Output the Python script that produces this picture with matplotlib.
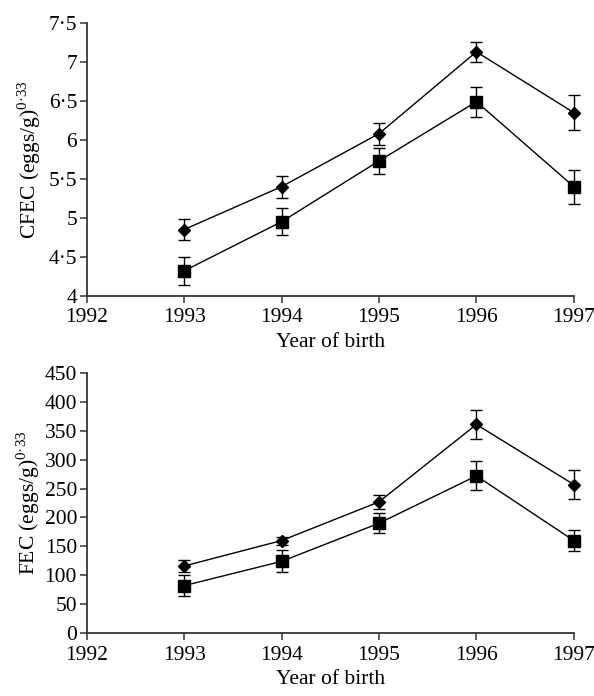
import matplotlib
matplotlib.use("Agg")
import matplotlib.pyplot as plt
from matplotlib.ticker import FuncFormatter

plt.rcParams['font.family'] = ['Liberation Serif', 'DejaVu Serif']
plt.rcParams['mathtext.fontset'] = 'custom'
plt.rcParams['mathtext.rm'] = 'Liberation Serif'
plt.rcParams['font.size'] = 15.5

# Data
years = [1993, 1994, 1995, 1996, 1997]

cfec_diamond = [4.85, 5.40, 6.08, 7.13, 6.35]
cfec_diamond_err = [0.14, 0.14, 0.14, 0.13, 0.22]
cfec_square = [4.32, 4.95, 5.73, 6.49, 5.40]
cfec_square_err = [0.18, 0.17, 0.17, 0.19, 0.22]

fec_diamond = [116, 160, 227, 361, 257]
fec_diamond_err = [10, 7, 12, 25, 25]
fec_square = [82, 124, 190, 272, 160]
fec_square_err = [18, 19, 17, 25, 18]

fig = plt.figure(figsize=(5.94, 6.96), dpi=100)
ax1 = fig.add_axes([0.146, 0.575, 0.82, 0.392])
ax2 = fig.add_axes([0.146, 0.0905, 0.82, 0.3735])


def style(ax):
    ax.spines['top'].set_visible(False)
    ax.spines['right'].set_visible(False)
    ax.spines['left'].set_color('#333333')
    ax.spines['bottom'].set_color('#333333')
    ax.spines['left'].set_linewidth(1.3)
    ax.spines['bottom'].set_linewidth(1.3)
    ax.tick_params(direction='out', length=5, width=1.1, color='#333333', pad=2)
    ax.tick_params(axis='x', pad=4)
    ax.set_xlim(1992, 1997)
    ax.set_xticks(range(1992, 1998))
    ax.set_xlabel('Year of birth', labelpad=4)


def series(ax, y, err, marker, ms):
    ax.errorbar(years, y, yerr=err, color='black', marker=marker, ms=ms,
                lw=1.0, elinewidth=1.0, capsize=4, capthick=1.0, clip_on=False)


style(ax1)
series(ax1, cfec_diamond, cfec_diamond_err, 'D', 6)
series(ax1, cfec_square, cfec_square_err, 's', 9)
ax1.set_ylim(4, 7.5)
ax1.set_yticks([4, 4.5, 5, 5.5, 6, 6.5, 7, 7.5])
ax1.yaxis.set_major_formatter(FuncFormatter(lambda v, p: ('%g' % v).replace('.', '·')))
ax1.set_ylabel('CFEC (eggs/g)$^{\\mathrm{0·33}}$', labelpad=4)

style(ax2)
series(ax2, fec_diamond, fec_diamond_err, 'D', 6)
series(ax2, fec_square, fec_square_err, 's', 9)
ax2.set_ylim(0, 450)
ax2.set_yticks(range(0, 451, 50))
ax2.set_ylabel('FEC (eggs/g)$^{\\mathrm{0·33}}$', labelpad=2)

fig.savefig('out.png', dpi=100)
